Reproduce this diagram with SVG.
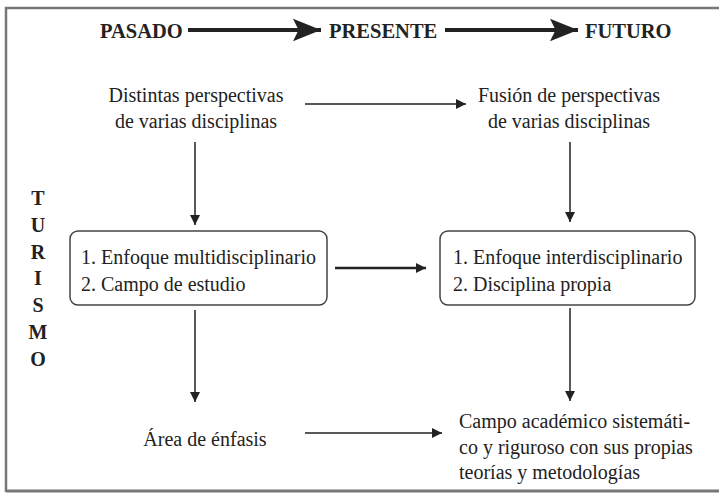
<svg xmlns="http://www.w3.org/2000/svg" width="719" height="494" viewBox="0 0 719 494">
<defs>
<marker id="ah" viewBox="0 0 10 10" refX="10" refY="5" markerWidth="10" markerHeight="10" markerUnits="userSpaceOnUse" orient="auto"><path d="M0,0 L10,5 L0,10 Z" fill="#222"/></marker>
<marker id="ahb" viewBox="0 0 10 10" refX="10" refY="5" markerWidth="7" markerHeight="7" orient="auto"><path d="M0,1 L10,5 L0,9 L2,5 Z" fill="#222"/></marker>
</defs>
<style>
text{font-family:"Liberation Serif",serif;fill:#222;}
.t{font-size:20px;}
.h{font-size:20.5px;font-weight:bold;}
.v{font-size:20px;font-weight:bold;text-anchor:middle;}
.c{text-anchor:middle;}
.ln{stroke:#222;stroke-width:1.5;fill:none;}
.box{fill:#fff;stroke:#444;stroke-width:1.5;}
</style>
<rect x="0" y="0" width="719" height="494" fill="#fff"/>
<path d="M6,492 L6,8 L722,8" fill="none" stroke="#777" stroke-width="2.5"/>
<line x1="6" y1="491" x2="722" y2="491" stroke="#777" stroke-width="3"/>
<g id="header">
<text class="h" x="100" y="38">PASADO</text>
<text class="h" x="329" y="38">PRESENTE</text>
<text class="h" x="585" y="38">FUTURO</text>
</g>
<g id="turismo">
<text class="v" x="38" y="205">T</text>
<text class="v" x="38" y="232">U</text>
<text class="v" x="38" y="259">R</text>
<text class="v" x="38" y="285">I</text>
<text class="v" x="38" y="312">S</text>
<text class="v" x="38" y="339">M</text>
<text class="v" x="38" y="366">O</text>
</g>
<g id="n1">
<text class="t c" x="196" y="102">Distintas perspectivas</text>
<text class="t c" x="196" y="128">de varias disciplinas</text>
</g>
<g id="n2">
<text class="t c" x="569" y="102">Fusión de perspectivas</text>
<text class="t c" x="569" y="128">de varias disciplinas</text>
</g>
<g id="n3">
<rect class="box" x="70" y="231" width="257" height="74" rx="8"/>
<text class="t" x="81" y="264">1. Enfoque multidisciplinario</text>
<text class="t" x="81" y="291">2. Campo de estudio</text>
</g>
<g id="n4">
<rect class="box" x="440" y="231" width="255" height="74" rx="8"/>
<text class="t" x="453" y="264">1. Enfoque interdisciplinario</text>
<text class="t" x="453" y="291">2. Disciplina propia</text>
</g>
<g id="n5">
<text class="t c" x="205" y="446">Área de énfasis</text>
</g>
<g id="n6">
<text class="t" x="459" y="428" font-size="19.5">Campo académico sistemáti-</text>
<text class="t" x="459" y="454" font-size="19.5">co y riguroso con sus propias</text>
<text class="t" x="459" y="479" font-size="19.5">teorías y metodologías</text>
</g>
<g id="connectors">
<line x1="188" y1="30" x2="321" y2="30" stroke="#222" stroke-width="4" marker-end="url(#ahb)"/>
<line x1="445" y1="30" x2="578" y2="30" stroke="#222" stroke-width="4" marker-end="url(#ahb)"/>
<line class="ln" x1="305" y1="104" x2="466" y2="104" marker-end="url(#ah)"/>
<line class="ln" x1="195" y1="142" x2="195" y2="225" marker-end="url(#ah)"/>
<line class="ln" x1="570" y1="142" x2="570" y2="222" marker-end="url(#ah)"/>
<line x1="335" y1="268" x2="426" y2="268" stroke="#222" stroke-width="2.5" marker-end="url(#ah)"/>
<line class="ln" x1="195" y1="310" x2="195" y2="402" marker-end="url(#ah)"/>
<line class="ln" x1="570" y1="308" x2="570" y2="401" marker-end="url(#ah)"/>
<line class="ln" x1="305" y1="433" x2="442" y2="433" marker-end="url(#ah)"/>
</g>
</svg>
